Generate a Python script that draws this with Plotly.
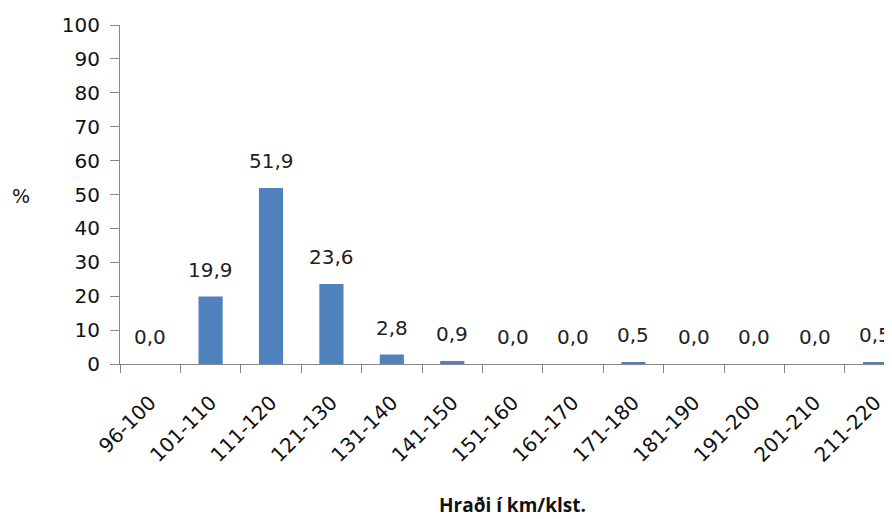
import plotly.graph_objects as go

categories = ["96-100", "101-110", "111-120", "121-130", "131-140", "141-150",
              "151-160", "161-170", "171-180", "181-190", "191-200", "201-210", "211-220"]
values = [0.0, 19.9, 51.9, 23.6, 2.8, 0.9, 0.0, 0.0, 0.5, 0.0, 0.0, 0.0, 0.5]
y_ticks = list(range(0, 101, 10))

FONT = "DejaVu Sans"
labels = [f"{v:.1f}".replace(".", ",") for v in values]

fig = go.Figure()
fig.add_trace(go.Bar(
    x=categories, y=values,
    marker=dict(color="#4F81BD", line=dict(width=0)),
    width=0.4,
))

annotations = []
for c, v, lab in zip(categories, values, labels):
    annotations.append(dict(x=c, y=v, xref="x", yref="y", text=lab, showarrow=False,
                            xanchor="center", yanchor="middle", yshift=27,
                            font=dict(family=FONT, size=20, color="#222222")))

annotations.append(dict(x=-0.128, y=0.496, xref="paper", yref="paper", text="%",
                        xanchor="center", yanchor="middle",
                        showarrow=False, font=dict(family=FONT, size=19, color="#111111")))
annotations.append(dict(x=0.508, y=-0.415, xref="paper", yref="paper",
                        xanchor="center", yanchor="middle",
                        text="<b>Hraði í km/klst.</b>", showarrow=False,
                        font=dict(family="Open Sans", size=19, color="#111111")))

fig.update_layout(
    width=884, height=511,
    margin=dict(l=112, r=0, t=17, b=155),
    paper_bgcolor="white", plot_bgcolor="white",
    showlegend=False,
    annotations=annotations,
    xaxis=dict(
        type="category",
        categoryorder="array", categoryarray=categories,
        range=[-0.5, 12.28],
        tickson="boundaries",
        tickangle=-45,
        showgrid=False, zeroline=False,
        showline=True, linecolor="#868686", linewidth=1,
        ticks="outside", ticklen=8, tickcolor="#868686",
        ticklabelstandoff=18,
        tickfont=dict(family=FONT, size=20, color="#111111"),
    ),
    yaxis=dict(
        range=[0, 100], tickvals=y_ticks,
        showgrid=False, zeroline=False,
        showline=True, linecolor="#868686", linewidth=1,
        ticks="outside", ticklen=9, tickcolor="#868686",
        ticklabelstandoff=6,
        tickfont=dict(family=FONT, size=20, color="#111111"),
    ),
)

fig.write_html("out.html")
